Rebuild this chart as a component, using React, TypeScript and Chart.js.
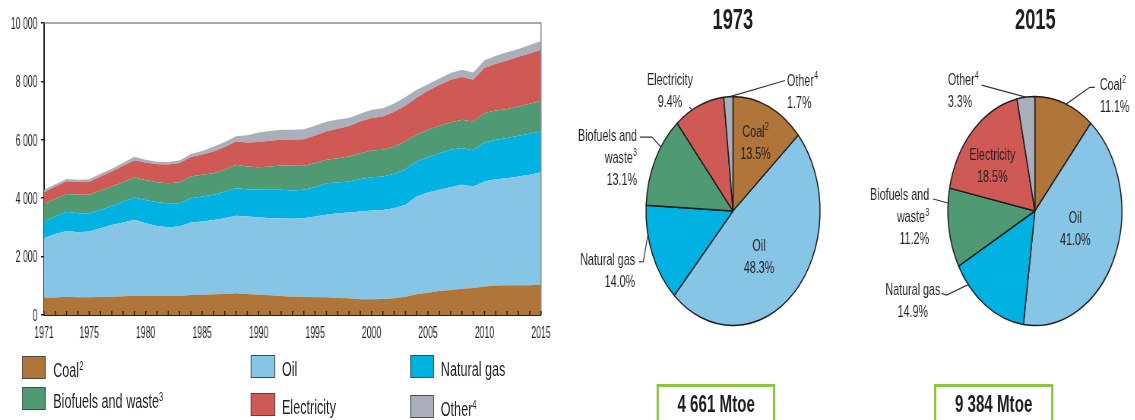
import React, { useEffect, useRef } from "react";
import { Chart, registerables } from "chart.js";

Chart.register(...registerables);

// ---------- data ----------
const years = [
  1971, 1972, 1973, 1974, 1975, 1976, 1977, 1978, 1979, 1980,
  1981, 1982, 1983, 1984, 1985, 1986, 1987, 1988, 1989, 1990,
  1991, 1992, 1993, 1994, 1995, 1996, 1997, 1998, 1999, 2000,
  2001, 2002, 2003, 2004, 2005, 2006, 2007, 2008, 2009, 2010,
  2011, 2012, 2013, 2014, 2015,
];
const xLabelYears = [1971, 1975, 1980, 1985, 1990, 1995, 2000, 2005, 2010, 2015];

const coal = [
  595, 600, 629, 612, 606, 615, 629, 645, 663, 651,
  650, 651, 651, 686, 697, 709, 720, 743, 720, 697,
  674, 651, 629, 629, 606, 606, 583, 572, 537, 537,
  549, 572, 629, 709, 766, 823, 857, 903, 926, 972,
  1006, 1017, 1017, 1017, 1042,
];
const oil = [
  2035, 2170, 2251, 2225, 2250, 2355, 2455, 2520, 2595, 2490,
  2400, 2355, 2378, 2480, 2503, 2548, 2595, 2652, 2652, 2652,
  2641, 2664, 2663, 2686, 2766, 2823, 2903, 2937, 3006, 3041,
  3051, 3086, 3143, 3349, 3429, 3463, 3521, 3555, 3475, 3600,
  3646, 3669, 3726, 3783, 3847,
];
const naturalGas = [
  570, 605, 653, 650, 630, 630, 650, 720, 765, 800,
  810, 823, 800, 835, 858, 858, 915, 948, 937, 937,
  971, 971, 971, 971, 1006, 1086, 1052, 1063, 1109, 1142,
  1143, 1177, 1223, 1200, 1211, 1257, 1280, 1257, 1234, 1337,
  1348, 1372, 1395, 1406, 1398,
];
const biofuels = [
  605, 605, 611, 630, 630, 665, 665, 665, 685, 685,
  685, 685, 720, 745, 742, 743, 743, 800, 777, 777,
  800, 834, 846, 823, 822, 800, 834, 857, 891, 915,
  915, 937, 948, 914, 937, 937, 937, 971, 994, 1006,
  1006, 994, 1005, 1029, 1051,
];
const electricity = [
  400, 420, 438, 435, 445, 480, 515, 560, 585, 595,
  615, 640, 655, 665, 700, 740, 780, 800, 823, 860,
  880, 885, 891, 914, 950, 975, 1010, 1040, 1080, 1108,
  1140, 1190, 1223, 1280, 1340, 1400, 1460, 1463, 1429, 1543,
  1600, 1660, 1700, 1720, 1736,
];
const other = [
  80, 80, 79, 80, 85, 90, 92, 105, 125, 95,
  92, 85, 85, 100, 115, 160, 170, 175, 250, 330,
  335, 340, 340, 340, 335, 330, 310, 280, 265, 285,
  285, 285, 300, 265, 220, 220, 230, 250, 250, 263,
  275, 286, 270, 290, 310,
];

const shares1973 = [13.5, 48.3, 14.0, 13.1, 9.4, 1.7];
const shares2015 = [11.1, 41.0, 14.9, 11.2, 18.5, 3.3];
const total1973 = "4 661 Mtoe";
const total2015 = "9 384 Mtoe";

// pie label names (order: coal, oil, gas, biofuels, electricity, other); ^n = superscript
const pieNames = ["Coal^2", "Oil", "Natural gas", "Biofuels and\nwaste^3", "Electricity", "Other^4"];

// ---------- styles ----------
const FONT = "'Liberation Sans', Arial, Helvetica, sans-serif";
const TEXT = "#231f20";
const COLORS = ["#b07538", "#87c5e6", "#00b2e2", "#4f9a72", "#cf5a55", "#a9b0bc"];
const S = 0.76; // horizontal compression of the whole figure
const W = 1135 / S;
const K_TICK = 0.72; // extra horizontal squeeze of axis text
const K_TEXT = 0.83; // extra horizontal squeeze of other text

const seriesList = [
  { label: "Coal", data: coal },
  { label: "Oil", data: oil },
  { label: "Natural gas", data: naturalGas },
  { label: "Biofuels and waste", data: biofuels },
  { label: "Electricity", data: electricity },
  { label: "Other", data: other },
];

const fmtThousands = (v: number) => String(v).replace(/\B(?=(\d{3})+(?!\d))/g, " ");

function squeezedText(ctx: CanvasRenderingContext2D, text: string, x: number, y: number, align: CanvasTextAlign, k: number) {
  ctx.save();
  ctx.translate(x, y);
  ctx.scale(k, 1);
  ctx.textAlign = align;
  ctx.fillText(text, 0, 0);
  ctx.restore();
}

// ---------- area chart ----------
const framePlugin = {
  id: "frame",
  afterDraw(chart: any) {
    const { ctx, chartArea: a, scales } = chart;
    ctx.save();
    ctx.strokeStyle = "#8a8a8a";
    ctx.lineWidth = 1.5;
    ctx.beginPath();
    ctx.moveTo(a.left, a.top);
    ctx.lineTo(a.right, a.top);
    ctx.lineTo(a.right, a.bottom);
    ctx.stroke();
    const xs = scales.x;
    const ys = scales.y;
    ctx.strokeStyle = "#222";
    ctx.lineWidth = 1.5;
    ctx.beginPath();
    xs.ticks.forEach((_t: any, i: number) => {
      const px = xs.getPixelForTick(i);
      ctx.moveTo(px, a.bottom);
      ctx.lineTo(px, a.bottom - 4);
    });
    ctx.stroke();
    // axis labels
    ctx.fillStyle = TEXT;
    ctx.font = `16px ${FONT}`;
    ctx.textBaseline = "alphabetic";
    xs.ticks.forEach((_t: any, i: number) => {
      if (xLabelYears.includes(years[i])) {
        squeezedText(ctx, String(years[i]), xs.getPixelForTick(i), a.bottom + 23.3, "center", K_TICK);
      }
    });
    ys.ticks.forEach((t: any, i: number) => {
      squeezedText(ctx, fmtThousands(t.value), a.left - 8.5, ys.getPixelForTick(i) + 5.8, "right", K_TICK);
    });
    ctx.restore();
  },
};

function AreaChart() {
  const ref = useRef<HTMLCanvasElement>(null);
  useEffect(() => {
    const chart = new Chart(ref.current as HTMLCanvasElement, {
      type: "line",
      data: {
        labels: years.map(String),
        datasets: seriesList.map((s, i) => ({
          label: s.label,
          data: s.data,
          backgroundColor: COLORS[i],
          borderColor: COLORS[i],
          borderWidth: 0,
          pointRadius: 0,
          tension: 0,
          fill: i === 0 ? "origin" : "-1",
        })),
      },
      options: {
        responsive: false,
        animation: false,
        devicePixelRatio: 1,
        layout: { padding: { top: 23, right: 28.2, left: 0, bottom: 0 } },
        plugins: { legend: { display: false }, tooltip: { enabled: false }, title: { display: false } },
        scales: {
          x: {
            grid: { display: false },
            border: { display: true, color: "#222", width: 2 },
            ticks: { display: false, autoSkip: false, maxRotation: 0 },
            afterFit: (s: any) => {
              s.height = 30;
            },
          },
          y: {
            stacked: true,
            min: 0,
            max: 10000,
            grid: { display: true, drawOnChartArea: false, drawTicks: true, tickLength: 4, color: "#222", lineWidth: 1.5 },
            border: { display: true, color: "#222", width: 2 },
            ticks: { display: false, stepSize: 2000 },
            afterFit: (s: any) => {
              s.width = 57.9;
            },
          },
        },
      } as any,
      plugins: [framePlugin],
    });
    return () => chart.destroy();
  }, []);
  return <canvas ref={ref} width={740} height={345} style={{ position: "absolute", left: 0, top: 0 }} />;
}

// ---------- pies ----------
type LabelSpec = {
  dx: number; // label anchor, in units of the pie radius
  dy: number;
  align: "left" | "center" | "right";
  leader?: { pts: number[][]; edge: number }; // edge: angle (deg, clockwise from top) on the rim
};

const layout1973: LabelSpec[] = [
  { dx: 0.259, dy: -0.59, align: "center" },
  { dx: 0.299, dy: 0.406, align: "center" },
  { dx: -1.126, dy: 0.528, align: "right", leader: { pts: [[-1.08, 0.445], [-1.031, 0.443]], edge: 258 } },
  { dx: -1.103, dy: -0.46, align: "right", leader: { pts: [[-1.069, -0.646], [-0.931, -0.646]], edge: 304 } },
  { dx: -0.724, dy: -1.041, align: "center", leader: { pts: [[-0.502, -0.908]], edge: 332 } },
  { dx: 0.621, dy: -1.039, align: "left", leader: { pts: [[0.598, -1.14]], edge: 358 } },
];
const layout2015: LabelSpec[] = [
  { dx: 0.747, dy: -1.006, align: "left", leader: { pts: [[0.689, -1.08], [0.632, -1.08]], edge: 21 } },
  { dx: 0.465, dy: 0.157, align: "center" },
  { dx: -1.402, dy: 0.792, align: "center", leader: { pts: [[-1.072, 0.719], [-1.015, 0.734]], edge: 230 } },
  { dx: -1.215, dy: 0.057, align: "right", leader: { pts: [[-1.169, -0.105]], edge: 274 } },
  { dx: -0.488, dy: -0.387, align: "center" },
  { dx: -1.0, dy: -1.042, align: "left", leader: { pts: [[-0.612, -1.1]], edge: 354 } },
];

const LABEL_SIZE = 17;
const SUP_SIZE = 11;
const LINE_H = 22;

function drawRich(ctx: CanvasRenderingContext2D, text: string, x: number, y: number, align: string) {
  const [base, sup] = text.split("^");
  ctx.font = `${LABEL_SIZE}px ${FONT}`;
  const wb = ctx.measureText(base).width;
  let ws = 0;
  if (sup) {
    ctx.font = `${SUP_SIZE}px ${FONT}`;
    ws = ctx.measureText(sup).width + 0.5;
  }
  const total = (wb + ws) * K_TEXT;
  const x0 = align === "left" ? x : align === "right" ? x - total : x - total / 2;
  ctx.save();
  ctx.translate(x0, y);
  ctx.scale(K_TEXT, 1);
  ctx.textAlign = "left";
  ctx.textBaseline = "middle";
  ctx.font = `${LABEL_SIZE}px ${FONT}`;
  ctx.fillText(base, 0, 0);
  if (sup) {
    ctx.font = `${SUP_SIZE}px ${FONT}`;
    ctx.fillText(sup, wb + 0.5, -5);
  }
  ctx.restore();
}

function makePieLabels(layout: LabelSpec[], values: number[]) {
  return {
    id: "pieLabels",
    afterDatasetsDraw(chart: any) {
      const ctx = chart.ctx as CanvasRenderingContext2D;
      const meta = chart.getDatasetMeta(0);
      ctx.save();
      meta.data.forEach((arc: any, i: number) => {
        const { x, y, outerRadius: R } = arc.getProps(["x", "y", "outerRadius"], true);
        const L = layout[i];
        if (L.leader) {
          ctx.strokeStyle = "#333";
          ctx.lineWidth = 1.2;
          ctx.beginPath();
          L.leader.pts.forEach((p, k) => {
            const X = x + p[0] * R;
            const Y = y + p[1] * R;
            if (k === 0) ctx.moveTo(X, Y);
            else ctx.lineTo(X, Y);
          });
          const a = ((L.leader.edge - 90) * Math.PI) / 180;
          ctx.lineTo(x + Math.cos(a) * R, y + Math.sin(a) * R);
          ctx.stroke();
        }
        const lines = [...pieNames[i].split("\n"), values[i].toFixed(1) + "%"];
        const cx = x + L.dx * R;
        const cy = y + L.dy * R;
        const top = cy - ((lines.length - 1) * LINE_H) / 2;
        ctx.fillStyle = TEXT;
        lines.forEach((ln, k) => drawRich(ctx, ln, cx, top + k * LINE_H, L.align));
      });
      ctx.restore();
    },
  };
}

const PIE_R = 114.5;
const PIE_CY = 211;

function Pie({ values, layout, left, width, centerX }: { values: number[]; layout: LabelSpec[]; left: number; width: number; centerX: number }) {
  const ref = useRef<HTMLCanvasElement>(null);
  const top = 40;
  const height = 300;
  useEffect(() => {
    const cx = centerX - left;
    const cy = PIE_CY - top;
    const half = PIE_R + 0.5;
    const chart = new Chart(ref.current as HTMLCanvasElement, {
      type: "pie",
      data: {
        labels: seriesList.map((s) => s.label),
        datasets: [
          {
            data: values,
            backgroundColor: COLORS,
            borderColor: "#1e1e1e",
            borderWidth: 1.5,
          },
        ],
      },
      options: {
        responsive: false,
        animation: false,
        devicePixelRatio: 1,
        radius: PIE_R,
        layout: {
          padding: { left: cx - half, right: width - cx - half, top: cy - half, bottom: height - cy - half },
        },
        plugins: { legend: { display: false }, tooltip: { enabled: false }, title: { display: false } },
      } as any,
      plugins: [makePieLabels(layout, values)],
    });
    return () => chart.destroy();
  }, []);
  return <canvas ref={ref} width={width} height={height} style={{ position: "absolute", left, top }} />;
}

// ---------- html text helpers ----------
function Squeeze({ children, origin }: { children: React.ReactNode; origin: string }) {
  return (
    <span style={{ display: "inline-block", transform: `scaleX(${K_TEXT})`, transformOrigin: origin, whiteSpace: "nowrap" }}>
      {children}
    </span>
  );
}

// ---------- legend ----------
const legendItems = [
  { idx: 0, name: "Coal", sup: "2", left: 28.9, top: 356 },
  { idx: 3, name: "Biofuels and waste", sup: "3", left: 28.9, top: 387 },
  { idx: 1, name: "Oil", sup: "", left: 330.3, top: 355 },
  { idx: 4, name: "Electricity", sup: "", left: 330.3, top: 393 },
  { idx: 2, name: "Natural gas", sup: "", left: 539.5, top: 355 },
  { idx: 5, name: "Other", sup: "4", left: 539.5, top: 395 },
];

function Legend() {
  return (
    <>
      {legendItems.map((it) => (
        <React.Fragment key={it.name}>
          <div
            style={{
              position: "absolute",
              left: it.left,
              top: it.top,
              width: 31.6,
              height: 23,
              boxSizing: "border-box",
              border: "1.6px solid #4a4a4a",
              background: COLORS[it.idx],
            }}
          />
          <div
            style={{
              position: "absolute",
              left: it.left + 31.6 + 9,
              top: it.top + 11.5 + 2.5 - 10,
              fontSize: 20,
              lineHeight: "20px",
              whiteSpace: "nowrap",
            }}
          >
            <Squeeze origin="0 50%">
              {it.name}
              {it.sup ? <span style={{ fontSize: 12, position: "relative", top: -7 }}>{it.sup}</span> : null}
            </Squeeze>
          </div>
        </React.Fragment>
      ))}
    </>
  );
}

function Title({ text, cx }: { text: string; cx: number }) {
  return (
    <div
      style={{
        position: "absolute",
        left: cx - 100,
        width: 200,
        top: 4.5,
        textAlign: "center",
        fontWeight: "bold",
        fontSize: 29,
        lineHeight: "29px",
      }}
    >
      <Squeeze origin="50% 50%">{text}</Squeeze>
    </div>
  );
}

function TotalBox({ text, left, width }: { text: string; left: number; width: number }) {
  return (
    <div
      style={{
        position: "absolute",
        left,
        top: 384,
        width,
        height: 40,
        boxSizing: "border-box",
        border: "3px solid #8cc63f",
        textAlign: "center",
        fontWeight: "bold",
        fontSize: 24,
        lineHeight: "34px",
        whiteSpace: "nowrap",
      }}
    >
      <Squeeze origin="50% 50%">{text}</Squeeze>
    </div>
  );
}

export default function App() {
  useEffect(() => {
    document.body.style.margin = "0";
  }, []);
  return (
    <div style={{ position: "fixed", left: 0, top: 0, width: 1135, height: 420, overflow: "hidden", background: "#fff" }}>
      <div
        style={{
          position: "absolute",
          left: 0,
          top: 0,
          width: W,
          height: 420,
          transform: `scaleX(${S})`,
          transformOrigin: "0 0",
          fontFamily: FONT,
          color: TEXT,
        }}
      >
        <AreaChart />
        <Legend />
        <Title text="1973" cx={733 / S} />
        <Title text="2015" cx={1035 / S} />
        <Pie values={shares1973} layout={layout1973} left={740} width={420} centerX={733 / S} />
        <Pie values={shares2015} layout={layout2015} left={1130} width={W - 1130} centerX={1035 / S} />
        <TotalBox text={total1973} left={657 / S} width={118 / S} />
        <TotalBox text={total2015} left={934 / S} width={119 / S} />
      </div>
    </div>
  );
}
